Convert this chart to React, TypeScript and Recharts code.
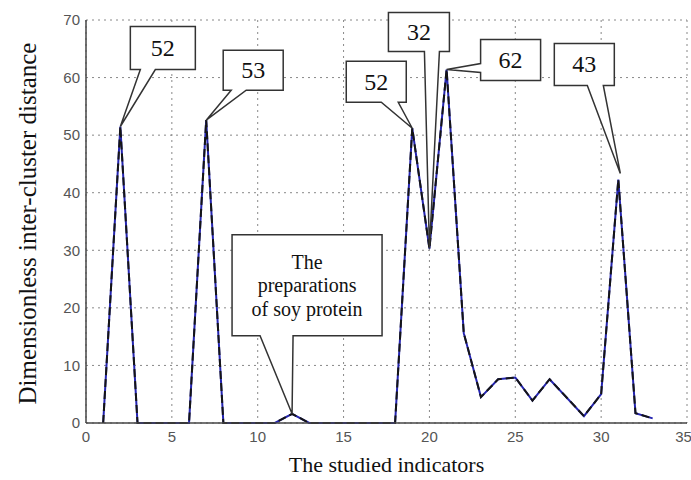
import { LineChart, Line, XAxis, YAxis, CartesianGrid, ReferenceDot } from 'recharts';

// studied indicator number and the inter-cluster distance read at each one
const indicators = [1, 2, 3, 6, 7, 8, 11, 12, 13, 18, 19, 20, 21, 22, 23, 24, 25, 26, 27, 29, 30, 31, 32, 33];
const distances = [0, 51.5, 0, 0, 52.6, 0, 0, 1.6, 0, 0, 51.2, 30.3, 61.4, 15.6, 4.5, 7.6, 7.9, 3.9, 7.6, 1.2, 5.0, 42.3, 1.7, 0.8];

const xTicks = [0, 5, 10, 15, 20, 25, 30, 35];
const yTicks = [0, 10, 20, 30, 40, 50, 60, 70];

// callouts: which indicator they point at and what they say
const calloutAt = [2, 7, 12, 19, 20, 21, 31];
const calloutText = [['52'], ['53'], ['The', 'preparations', 'of soy protein'], ['52'], ['32'], ['62'], ['43']];

// box offsets from the tip (px): left, top, right, bottom, wedge base, tip nudge
const calloutBoxes = [
  { l: 10, t: -100, r: 75, b: -57, side: 'bottom', w1: 20, w2: 35, dx: 0, dy: 0 },
  { l: 17, t: -70, r: 77, b: -30, side: 'bottom', w1: 25, w2: 40, dx: 0, dy: 0 },
  { l: -60, t: -179, r: 90, b: -78, side: 'bottom', w1: -32, w2: 1, dx: 0, dy: 0 },
  { l: -66, t: -67, r: -6, b: -26, side: 'bottom', w1: -31, w2: -14, dx: 0, dy: 0 },
  { l: -41, t: -236, r: 20, b: -197, side: 'bottom', w1: -5, w2: 10, dx: 0, dy: 0 },
  { l: 34, t: -30, r: 94, b: 11, side: 'left', w1: -6, w2: 3, dx: 0, dy: 0 },
  { l: -66, t: -130, r: -6, b: -88, side: 'bottom', w1: -33, w2: -17, dx: 2, dy: -6 },
];

const chartData = indicators.map((x, i) => ({ x, d: distances[i] }));

const serif = '"Liberation Serif", "Times New Roman", serif';
const sans = '"Liberation Sans", Arial, sans-serif';

const makeCallout = (idx: number) => (props: any) => {
  const box = calloutBoxes[idx];
  const lines = calloutText[idx];
  const tx = props.cx + box.dx;
  const ty = props.cy + box.dy;
  const L = tx + box.l;
  const R = tx + box.r;
  const T = ty + box.t;
  const B = ty + box.b;
  let pts: number[][];
  if (box.side === 'bottom') {
    pts = [[L, T], [R, T], [R, B], [tx + box.w2, B], [tx, ty], [tx + box.w1, B], [L, B]];
  } else {
    pts = [[L, T], [R, T], [R, B], [L, B], [L, ty + box.w2], [tx, ty], [L, ty + box.w1]];
  }
  const cxBox = (L + R) / 2;
  const cyBox = (T + B) / 2;
  const multi = lines.length > 1;
  const lh = 23.7;
  return (
    <g>
      <polygon
        points={pts.map((p) => p.join(',')).join(' ')}
        fill="#fff"
        stroke="#333"
        strokeWidth={1.5}
        strokeLinejoin="miter"
      />
      {lines.map((s, i) => (
        <text
          key={i}
          x={cxBox}
          y={cyBox + (i - (lines.length - 1) / 2) * lh}
          textAnchor="middle"
          dominantBaseline="central"
          fontFamily={serif}
          fontSize={multi ? 20 : 24}
          fill="#111"
        >
          {s}
        </text>
      ))}
    </g>
  );
};

const YTitle = (props: any) => {
  const vb = props.viewBox;
  const x = vb.x + 27;
  const y = vb.y + vb.height / 2 + 2;
  return (
    <text
      x={x}
      y={y}
      transform={`rotate(-90, ${x}, ${y})`}
      textAnchor="middle"
      dominantBaseline="central"
      fontFamily={serif}
      fontSize={25}
      fill="#111"
    >
      Dimensionless inter-cluster distance
    </text>
  );
};

export default function App() {
  return (
    <div style={{ position: 'absolute', left: 0, top: 0, width: 691, height: 480, background: '#fff' }}>
      <LineChart width={691} height={480} data={chartData} margin={{ top: 20, right: 4, bottom: 0, left: 0 }}>
        <CartesianGrid stroke="#888" strokeDasharray="2 4" />
        <XAxis
          dataKey="x"
          type="number"
          domain={[0, 35]}
          ticks={xTicks}
          height={57}
          tickLine={false}
          axisLine={{ stroke: '#444', strokeWidth: 1.5 }}
          tick={{ fontFamily: sans, fontSize: 15, fill: '#555' }}
          label={{ value: 'The studied indicators', position: 'insideBottom', offset: 8, fontFamily: serif, fontSize: 22, fill: '#111' }}
        />
        <YAxis
          type="number"
          domain={[0, 70]}
          ticks={yTicks}
          width={86}
          tickLine={false}
          tickMargin={0}
          axisLine={{ stroke: '#444', strokeWidth: 1.5 }}
          tick={{ fontFamily: sans, fontSize: 15, fill: '#555' }}
          label={{ content: YTitle }}
        />
        <Line
          type="linear"
          dataKey="d"
          stroke="#2424b0"
          strokeWidth={2}
          dot={false}
          isAnimationActive={false}
        />
        <Line
          type="linear"
          dataKey="d"
          stroke="#151515"
          strokeWidth={2}
          strokeDasharray="8 4"
          dot={false}
          isAnimationActive={false}
        />
        {calloutAt.map((x, i) => (
          <ReferenceDot
            key={i}
            x={x}
            y={distances[indicators.indexOf(x)]}
            r={0}
            ifOverflow="visible"
            shape={makeCallout(i)}
          />
        ))}
      </LineChart>
    </div>
  );
}
